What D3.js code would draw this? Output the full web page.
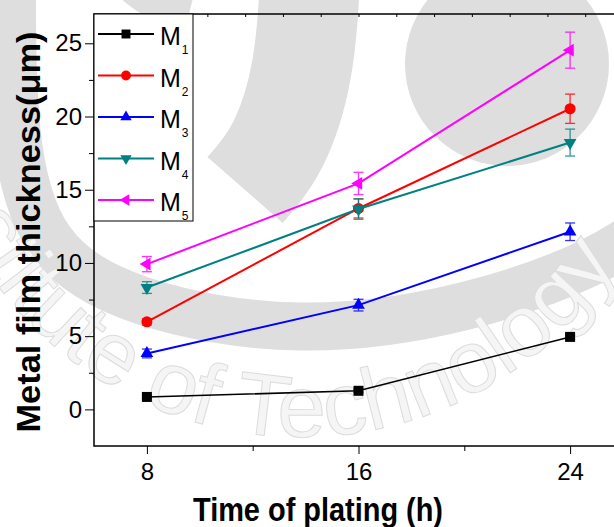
<!DOCTYPE html>
<html>
<head>
<meta charset="utf-8">
<script src="https://cdn.jsdelivr.net/npm/d3@7"></script>
<style>
body { margin: 0; background: #fff; }
svg { display: block; font-family: "Liberation Sans", Arial, sans-serif; }
</style>
</head>
<body>
<div id="chart"></div>
<script>
// Values: film thickness (um) after 8, 16 and 24 h of plating
const hours = [8, 16, 24];
const seriesNames = ["M1", "M2", "M3", "M4", "M5"];
const m1 = [0.85, 1.27, 4.95];
const m2 = [5.98, 13.72, 20.53];
const m3 = [3.82, 7.12, 12.13];
const m4 = [8.32, 13.68, 18.22];
const m5 = [9.92, 15.43, 24.53];
const m1Err = [0.1, 0.1, 0.15];
const m2Err = [0.22, 0.65, 1.0];
const m3Err = [0.3, 0.4, 0.6];
const m4Err = [0.4, 0.7, 0.92];
const m5Err = [0.52, 0.76, 1.23];
const yTicks = [0, 5, 10, 15, 20, 25];
const yMinorTicks = [2.5, 7.5, 12.5, 17.5, 22.5];
const xTicks = [8, 16, 24];
const xMinorTicks = [12, 20];

const colors = ["#000000", "#ff0000", "#0000ff", "#008080", "#ff00ff"];

var width = 614, height = 527;
var frame = {left: 94, top: 14, right: 623, bottom: 446};

var svg = d3.select("#chart")
    .append("svg")
        .attr("width", width)
        .attr("height", height);

// faint institute logo watermark behind the plot
var wm = svg.append("g").attr("class", "watermark");
var swoosh = d3.line().curve(d3.curveBasis);
wm.append("circle")
    .attr("cx", 507).attr("cy", 64).attr("r", 102)
    .attr("fill", "#dedede");
wm.append("path")
    .attr("d", swoosh([[12, -20], [12, 140], [40, 250], [130, 305], [300, 336], [470, 310], [600, 262], [650, 225]]))
    .attr("fill", "none")
    .attr("stroke", "#dedede")
    .attr("stroke-width", 48);
wm.append("path")
    .attr("d", swoosh([[310, -20], [305, 70], [280, 150], [245, 190]]))
    .attr("fill", "none")
    .attr("stroke", "#dedede")
    .attr("stroke-width", 100);
wm.append("path")
    .attr("d", swoosh([[120, -30], [150, 0], [190, 10]]))
    .attr("fill", "none")
    .attr("stroke", "#dedede")
    .attr("stroke-width", 40);

var arc = d3.path();
arc.arc(300, 60, 377, 3.61, 0.1, true);
wm.append("path").attr("id", "wmArc").attr("d", arc.toString()).attr("fill", "none");
wm.append("text")
    .style("font-size", "88px")
    .attr("fill", "#f5f5f5")
    .attr("stroke", "#dcdcdc")
    .attr("stroke-width", 1)
    .append("textPath")
        .attr("href", "#wmArc")
        .attr("startOffset", 273)
        .text("Institute of Technology");

const x = d3.scaleLinear()
    .domain([6, 26])
    .range([frame.left, frame.right]);
const y = d3.scaleLinear()
    .domain([-2.5, 27])
    .range([frame.bottom, frame.top]);
// Origin draws its own tick set on the top edge
const xTop = d3.scaleLinear()
    .domain([0, 14])
    .range([frame.left, frame.right]);

var values = [m1, m2, m3, m4, m5];
var errs = [m1Err, m2Err, m3Err, m4Err, m5Err];
var symbols = [
    {type: d3.symbolSquare, size: 100, rot: 0},
    {type: d3.symbolCircle, size: 95, rot: 0},
    {type: d3.symbolTriangle, size: 70, rot: 0},
    {type: d3.symbolTriangle, size: 70, rot: 180},
    {type: d3.symbolTriangle, size: 70, rot: -90}
];

var series = seriesNames.map((name, i) => ({
    name: name,
    color: colors[i],
    symbol: symbols[i],
    points: hours.map((h, j) => ({t: h, v: values[i][j], e: errs[i][j]}))
}));

// axes
svg.append("g")
    .attr("transform", `translate(${frame.left},0)`)
    .call(d3.axisLeft(y).tickValues(yTicks).tickSize(9).tickPadding(3))
    .call(g => g.select(".domain").remove())
    .call(g => g.selectAll("text").style("font-size", "24px").attr("fill", "#000"));
svg.append("g")
    .attr("transform", `translate(${frame.left},0)`)
    .call(d3.axisLeft(y).tickValues(yMinorTicks).tickSize(5).tickFormat(""))
    .call(g => g.select(".domain").remove());
svg.append("g")
    .attr("transform", `translate(0,${frame.bottom})`)
    .call(d3.axisBottom(x).tickValues(xTicks).tickSize(8).tickPadding(9))
    .call(g => g.select(".domain").remove())
    .call(g => g.selectAll("text").style("font-size", "24px").attr("fill", "#000"));
svg.append("g")
    .attr("transform", `translate(0,${frame.bottom})`)
    .call(d3.axisBottom(x).tickValues(xMinorTicks).tickSize(5).tickFormat(""))
    .call(g => g.select(".domain").remove());
svg.append("g")
    .attr("transform", `translate(0,${frame.top})`)
    .call(d3.axisTop(xTop).ticks(14).tickSize(-3).tickFormat(""))
    .call(g => g.select(".domain").remove());

svg.append("rect")
    .attr("x", frame.left)
    .attr("y", frame.top)
    .attr("width", frame.right - frame.left)
    .attr("height", frame.bottom - frame.top)
    .attr("fill", "none")
    .attr("stroke", "#000")
    .attr("stroke-width", 1.5);

const line = d3.line()
    .x(d => x(d.t))
    .y(d => y(d.v));

// lines first, then error bars and markers
svg.selectAll(".line")
    .data(series)
    .enter().append("path")
    .attr("fill", "none")
    .attr("stroke", d => d.color)
    .attr("stroke-width", d => d.name == "M1" ? 1.6 : 2)
    .attr("d", d => line(d.points));

series.forEach(s => {
    var g = svg.append("g");
    var eb = g.selectAll(".err")
        .data(s.points)
        .enter().append("g")
        .attr("stroke", s.color)
        .attr("stroke-width", 1.3)
        .attr("opacity", 0.8);
    eb.append("line")
        .attr("x1", d => x(d.t)).attr("x2", d => x(d.t))
        .attr("y1", d => y(d.v - d.e)).attr("y2", d => y(d.v + d.e));
    eb.append("line")
        .attr("x1", d => x(d.t) - 5).attr("x2", d => x(d.t) + 5)
        .attr("y1", d => y(d.v + d.e)).attr("y2", d => y(d.v + d.e));
    eb.append("line")
        .attr("x1", d => x(d.t) - 5).attr("x2", d => x(d.t) + 5)
        .attr("y1", d => y(d.v - d.e)).attr("y2", d => y(d.v - d.e));

    g.selectAll(".point")
        .data(s.points)
        .enter().append("path")
        .attr("d", d3.symbol().type(s.symbol.type).size(s.symbol.size))
        .attr("transform", d => `translate(${x(d.t)},${y(d.v)}) rotate(${s.symbol.rot})`)
        .attr("fill", s.color);
});

// legend box in the top-left corner
var legend = svg.append("g");
legend.append("rect")
    .attr("x", frame.left)
    .attr("y", frame.top)
    .attr("width", 99)
    .attr("height", 207)
    .attr("fill", "#fff")
    .attr("stroke", "#000")
    .attr("stroke-width", 1);

var rows = legend.selectAll(".row")
    .data(series)
    .enter().append("g")
    .attr("transform", (d, i) => `translate(${frame.left}, ${34 + i * 41.5})`);
rows.append("line")
    .attr("x1", 4).attr("x2", 60)
    .attr("stroke", d => d.color)
    .attr("stroke-width", 2);
rows.append("path")
    .attr("d", d => d3.symbol().type(d.symbol.type).size(d.symbol.size * 0.8)())
    .attr("transform", d => `translate(32,0) rotate(${d.symbol.rot})`)
    .attr("fill", d => d.color);
var label = rows.append("text")
    .attr("x", 66)
    .attr("y", 11)
    .style("font-size", "25px")
    .text(d => d.name.charAt(0));
label.append("tspan")
    .attr("dx", 1)
    .attr("dy", 9)
    .style("font-size", "12px")
    .text(d => d.name.slice(1));

// axis titles
svg.append("text")
    .attr("transform", "translate(40,232) rotate(-90)")
    .attr("text-anchor", "middle")
    .style("font-size", "34px")
    .style("font-weight", "bold")
    .attr("textLength", 401)
    .attr("lengthAdjust", "spacingAndGlyphs")
    .text("Metal film thickness(\u03bcm)");
svg.append("text")
    .attr("x", 318)
    .attr("y", 521)
    .attr("text-anchor", "middle")
    .style("font-size", "34px")
    .style("font-weight", "bold")
    .attr("textLength", 250)
    .attr("lengthAdjust", "spacingAndGlyphs")
    .text("Time of plating (h)");
</script>
</body>
</html>
